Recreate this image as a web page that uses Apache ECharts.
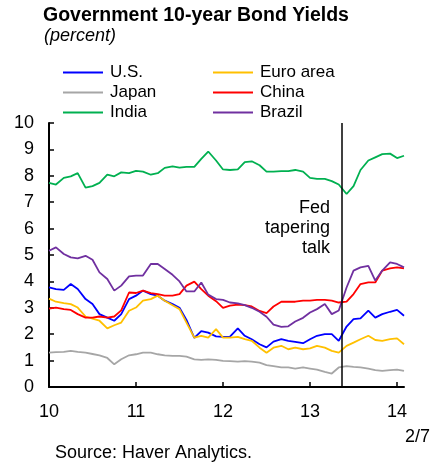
<!DOCTYPE html>
<html><head><meta charset="utf-8">
<script src="https://cdn.jsdelivr.net/npm/echarts@6/dist/echarts.min.js"></script>
<style>html,body{margin:0;padding:0;background:#fff}#c{width:430px;height:463px}</style>
</head><body><div id="c"></div>
<script>
const dates = [10.00,10.08,10.17,10.25,10.33,10.42,10.50,10.58,10.67,10.75,10.83,10.92,
  11.00,11.08,11.17,11.25,11.33,11.42,11.50,11.58,11.67,11.75,11.83,11.92,
  12.00,12.08,12.17,12.25,12.33,12.42,12.50,12.58,12.67,12.75,12.83,12.92,
  13.00,13.08,13.17,13.25,13.33,13.42,13.50,13.58,13.67,13.75,13.83,13.92,
  14.00,14.08];
const us = [3.77,3.71,3.68,3.90,3.71, 3.33,3.14,2.76,2.63,2.51, 2.76,3.33,3.46,3.65,3.52, 3.46,3.27,3.14,3.00,2.54, 1.86,2.12,2.06,1.92,1.90, 1.91,2.22,1.94,1.81,1.62, 1.50,1.72,1.81,1.75,1.71, 1.66,1.81,1.94,2.00,2.00, 1.75,2.29,2.57,2.60,2.89, 2.63,2.76,2.85,2.92,2.70];
const euro = [3.35,3.23,3.18,3.14,3.01, 2.67,2.59,2.51,2.22,2.34, 2.44,2.89,3.01,3.27,3.33, 3.46,3.27,3.10,2.95,2.44, 1.87,1.94,1.87,2.19,1.87, 1.87,1.90,1.81,1.75,1.49, 1.30,1.49,1.56,1.43,1.49, 1.43,1.46,1.56,1.49,1.37, 1.30,1.56,1.68,1.81,1.94, 1.78,1.75,1.81,1.84,1.62];
const japan = [1.30,1.32,1.33,1.37,1.33, 1.30,1.25,1.20,1.10,0.86, 1.05,1.20,1.24,1.30,1.30, 1.24,1.20,1.18,1.18,1.15, 1.05,1.03,1.05,1.03,0.99, 0.98,0.96,0.98,0.96,0.92, 0.83,0.79,0.74,0.74,0.70, 0.74,0.70,0.66,0.57,0.51, 0.74,0.79,0.76,0.74,0.70, 0.64,0.61,0.64,0.66,0.61];
const china = [2.97,3.01,2.95,2.92,2.76, 2.63,2.63,2.67,2.63,2.67, 2.90,3.58,3.56,3.65,3.56, 3.52,3.46,3.46,3.52,3.84, 3.99,3.71,3.46,3.25,3.00, 3.08,3.12,3.10,3.05,2.88, 2.80,3.05,3.23,3.23,3.23, 3.27,3.27,3.30,3.30,3.27, 3.20,3.23,3.52,3.90,3.96, 3.96,4.41,4.49,4.53,4.49];
const india = [7.73,7.67,7.92,7.98,8.10, 7.55,7.61,7.73,8.04,7.98, 8.13,8.10,8.19,8.16,8.04, 8.10,8.30,8.36,8.31,8.34, 8.34,8.64,8.92,8.58,8.24, 8.22,8.24,8.52,8.55,8.40, 8.16,8.16,8.18,8.18,8.22, 8.16,7.92,7.88,7.88,7.80, 7.67,7.31,7.61,8.22,8.58, 8.70,8.82,8.84,8.67,8.76];
const brazil = [5.16,5.29,5.04,4.91,4.87, 4.97,4.82,4.34,4.09,3.65, 3.84,4.19,4.22,4.22,4.66, 4.66,4.47,4.25,4.00,3.62, 3.62,3.96,3.50,3.33,3.30, 3.20,3.17,3.10,3.00,2.85, 2.66,2.36,2.28,2.30,2.48, 2.62,2.82,2.95,3.14,2.76, 2.90,3.77,4.41,4.53,4.59, 4.03,4.41,4.72,4.66,4.53];
const xTicks = [10, 11, 12, 13, 14];
const fedDate = 13.36;

const FONT = '"Liberation Sans", Arial, sans-serif';
function pairs(vals){ return vals.map((v,i)=>[dates[i], v]); }
const seriesDefs = [
  {name:'U.S.', data: us, color:'#0000FF'},
  {name:'Euro area', data: euro, color:'#FFC000'},
  {name:'Japan', data: japan, color:'#A6A6A6'},
  {name:'China', data: china, color:'#FF0000'},
  {name:'India', data: india, color:'#00B050'},
  {name:'Brazil', data: brazil, color:'#7030A0'}
];
const chart = echarts.init(document.getElementById('c'), null, {renderer:'canvas'});
const legendCommon = {
  orient:'vertical', icon:'rect', itemWidth:40, itemHeight:2, itemGap:3,
  padding:0,
  textStyle:{fontFamily:FONT, fontSize:17, color:'#000', lineHeight:16.5, padding:[0,0,0,2]},
  selectedMode:false, top:64
};
chart.setOption({
  animation:false,
  backgroundColor:'#fff',
  title:[
    {text:'Government 10-year Bond Yields', left:43, top:6, padding:0,
     textStyle:{fontFamily:FONT, fontSize:19.5, fontWeight:'bold', color:'#000'}},
    {text:'(percent)', left:44, top:27, padding:0,
     textStyle:{fontFamily:FONT, fontSize:18, fontStyle:'italic', fontWeight:'normal', color:'#000'}}
  ],
  legend:[
    Object.assign({}, legendCommon, {left:63, data:['U.S.','Japan','India']}),
    Object.assign({}, legendCommon, {left:213, data:['Euro area','China','Brazil']})
  ],
  grid:{left:49, right:26, top:123, bottom:76, containLabel:false},
  xAxis:{type:'value', min:10, max:14.08,
    axisLine:{show:true, lineStyle:{color:'#000', width:2}},
    axisTick:{show:true, inside:true, length:5, customValues:xTicks, lineStyle:{color:'#000', width:1.5}},
    axisLabel:{customValues:xTicks, margin:16, fontFamily:FONT, fontSize:18, color:'#000', formatter:v=>String(v)},
    splitLine:{show:false}},
  yAxis:{type:'value', min:0, max:10, interval:1,
    axisLine:{show:true, lineStyle:{color:'#000', width:2}},
    axisTick:{show:true, inside:true, length:5, lineStyle:{color:'#000', width:1.5}},
    axisLabel:{margin:15, fontFamily:FONT, fontSize:18, color:'#000'},
    splitLine:{show:false}},
  series: seriesDefs.map((s,idx)=>({
    name:s.name, type:'line', data:pairs(s.data), showSymbol:false, symbol:'none',
    lineStyle:{color:s.color, width:1.8}, itemStyle:{color:s.color},
    z: 2,
    markLine: idx===0 ? {silent:true, symbol:'none', label:{show:false},
      lineStyle:{color:'#000', width:1.5, type:'solid'}, data:[{xAxis:fedDate}]} : undefined
  })),
  graphic:[
    {type:'text', x:330, y:198, style:{text:'Fed\ntapering\ntalk', align:'right', verticalAlign:'top', font:'18px '+FONT, fill:'#000', lineHeight:20}},
    {type:'text', x:55, y:444, style:{text:'Source: Haver Analytics.', font:'18px '+FONT, fill:'#000'}},
    {type:'text', x:430, y:428, style:{text:'2/7', align:'right', font:'18px '+FONT, fill:'#000'}}
  ]
});
</script></body></html>
